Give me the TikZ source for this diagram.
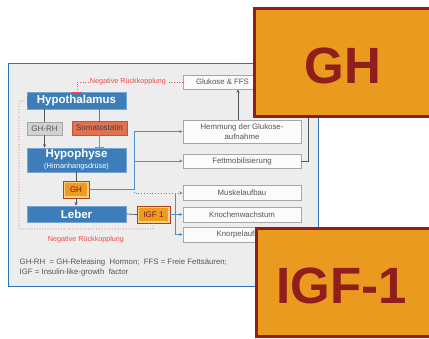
\documentclass[tikz,border=0pt]{standalone}
\usepackage{fontspec}
\setmainfont{Liberation Sans}
\usetikzlibrary{arrows.meta}
\definecolor{boxblue}{HTML}{3D7EBA}
\definecolor{lineblue}{HTML}{4F8FCC}
\definecolor{panelfill}{HTML}{EDEDED}
\definecolor{panelline}{HTML}{2E75B6}
\definecolor{fbred}{HTML}{F04848}
\definecolor{somafill}{HTML}{E2714F}
\definecolor{hormfill}{HTML}{EE9B22}
\definecolor{hormglow}{HTML}{F8CE80}
\definecolor{bigfill}{HTML}{EA9A1E}
\definecolor{bigred}{HTML}{8F1E1C}
\definecolor{txtgray}{HTML}{555555}
\definecolor{edgegray}{HTML}{A6A6A6}
\tikzset{
  organ/.style={draw=boxblue!70!white, line width=0.6pt, fill=boxblue, text=white,
    font=\bfseries\fontsize{11.5}{13}\selectfont, inner sep=0pt, align=center},
  effect/.style={draw=edgegray, line width=0.6pt, fill=white!97!gray, text=txtgray,
    font=\fontsize{7.8}{9.5}\selectfont, inner sep=0pt, align=center,
    minimum width=118pt},
  hormone/.style={draw=hormglow, line width=2pt, fill=hormfill, text=bigred!80!black,
    font=\fontsize{8}{9}\selectfont, inner sep=0pt},
  hormedge/.style={draw=bigred!70!hormfill, line width=0.5pt},
  feedback/.style={fbred, line width=0.7pt, dotted},
  fbtext/.style={text=fbred, font=\fontsize{7.2}{8}\selectfont, inner sep=1pt},
  grayline/.style={draw=txtgray, line width=0.7pt},
  grayarrow/.style={grayline, -{Stealth[length=3.5pt,width=3pt]}},
  bluearrow/.style={draw=lineblue, line width=0.8pt, -{Stealth[length=3.5pt,width=3pt]}},
  inhibit/.style={line width=0.9pt, -{Bar[width=9pt]}},
  bigbox/.style={draw=bigred, line width=3pt, fill=bigfill},
  bigtext/.style={text=bigred, font=\bfseries\fontsize{51}{55}\selectfont, inner sep=0pt, anchor=base}
}
\begin{document}
\begin{tikzpicture}[x=1pt, y=-1pt]
\clip (0,0) rectangle (429,338);
\fill[white] (0,0) rectangle (429,338);

% panel
\draw[panelline, line width=0.8pt, fill=panelfill] (8,63.5) rectangle (318,286);

% regulating organs and hormones
\node[organ, minimum width=99pt, minimum height=17pt] (hyp) at (76.5,100.5) {Hypothalamus};
\node[draw=edgegray, fill=gray!35, text=txtgray, font=\fontsize{8}{9}\selectfont,
      inner sep=0pt, minimum width=35pt, minimum height=13pt] (ghrh) at (44.5,128.5) {GH-RH};
\node[draw=somafill!80!black, fill=somafill, text=black!75, font=\fontsize{8}{9}\selectfont,
      inner sep=0pt, minimum width=55pt, minimum height=14pt] (soma) at (99.5,128) {Somatostatin};
\node[organ, minimum width=99pt, minimum height=24pt] (hypo) at (76.5,160)
  {Hypophyse\\[-2pt]{\mdseries\fontsize{7.3}{8}\selectfont(Hirnanhangsdrüse)}};
\node[hormone, minimum width=24pt, minimum height=15pt] (gh) at (76,189.5) {GH};
\draw[hormedge] (gh.south west) rectangle (gh.north east);
\node[organ, minimum width=99pt, minimum height=16pt] (leber) at (76.5,214) {Leber};
\node[hormone, minimum width=31pt, minimum height=15pt] (igf) at (153.5,214.5) {IGF 1};
\draw[hormedge] (igf.south west) rectangle (igf.north east);

% effects
\node[effect, minimum width=79pt, minimum height=14pt] (glu) at (222.5,82) {Glukose \& FFS};
\node[effect, minimum height=23pt] (hemm) at (242,131.5) {Hemmung der Glukose-\\aufnahme};
\node[effect, minimum height=14pt] (fett) at (242,161) {Fettmobilisierung};
\node[effect, minimum height=15pt] (musk) at (242,192.5) {Muskelaufbau};
\node[effect, minimum height=15pt] (kno) at (242,214.5) {Knochenwachstum};
\node[effect, minimum height=15pt] (knor) at (242,234.5) {Knorpelaufbau};

% hypothalamus -> hypophyse
\draw[grayline] (hyp.south -| ghrh.north) -- (ghrh.north);
\draw[grayarrow] (ghrh.south) -- (ghrh.south |- hypo.north);
\draw[draw=somafill!85!black, line width=0.7pt] (hyp.south -| soma.north) -- (soma.north);
\draw[somafill, inhibit] (soma.south) -- (soma.south |- hypo.north);

% hypophyse -> GH -> leber -> IGF 1
\draw[grayline] (hypo.south -| gh.north) -- (gh.north);
\draw[grayarrow] (gh.south) -- (gh.south |- leber.north);
\draw[grayline] (leber.east) -- (igf.west);

% GH actions
\coordinate (ghsplit) at (134,189);
\draw[lineblue, line width=0.8pt] (gh.east |- ghsplit) -- (ghsplit) -- (ghsplit |- hemm.west);
\draw[bluearrow] (ghsplit |- hemm.west) -- (hemm.west);
\draw[bluearrow] (ghsplit |- fett.west) -- (fett.west);
\draw[lineblue, line width=0.8pt, dotted] (ghsplit) -- (134,193) -- (182,193);
\draw[draw=lineblue, line width=0.8pt, -{Stealth[length=3.5pt,width=3pt]}] (180,193) -- (musk.west |- 0,193);

% IGF 1 actions
\coordinate (igfsplit) at (175,214.5);
\draw[lineblue, line width=0.8pt] (igf.east) -- (igfsplit);
\draw[lineblue, line width=0.8pt] (igfsplit |- 0,193) -- (igfsplit |- knor.west);
\draw[bluearrow] (igfsplit |- kno.west) -- (kno.west);
\draw[bluearrow] (igfsplit |- knor.west) -- (knor.west);

% metabolic loop
\draw[grayarrow] (hemm.north -| 238,0) -- (glu.south -| 238,0);
\draw[grayline] (fett.east) -- (308,161) -- (308,82) -- (glu.east);

% negative feedback, top
\node[fbtext] (fbtop) at (128,82) {Negative Rückkopplung};
\draw[feedback] (glu.west) -- (fbtop.east);
\draw[feedback] (fbtop.west) -- (77,82) -- (77,91);
\draw[fbred, line width=0.9pt] (72,92) -- (82,92);

% negative feedback, bottom
\draw[feedback] (igf.south) -- (153,229) -- (19,229) -- (19,101) -- (26,101);
\draw[fbred, line width=0.9pt] (27,96) -- (27,106);
\node[fbtext] (fbbot) at (86,239.5) {Negative Rückkopplung};

% legend
\node[anchor=west, text=txtgray, font=\fontsize{7.8}{10}\selectfont, inner sep=0pt, align=left] (legend)
  at (19.5,267) {GH-RH \ = GH-Releasing \ Hormon; \ FFS = Freie Fettsäuren;\\IGF = Insulin-like-growth \ factor};

% large labels
\draw[bigbox] (254.5,8.5) rectangle (445,116.5);
\node[bigtext] (ghbig) at (343,83) {GH};
\draw[bigbox] (256.5,228.5) rectangle (445,336);
\node[bigtext] (igfbig) at (341.5,303) {IGF-1};
\end{tikzpicture}
\end{document}
